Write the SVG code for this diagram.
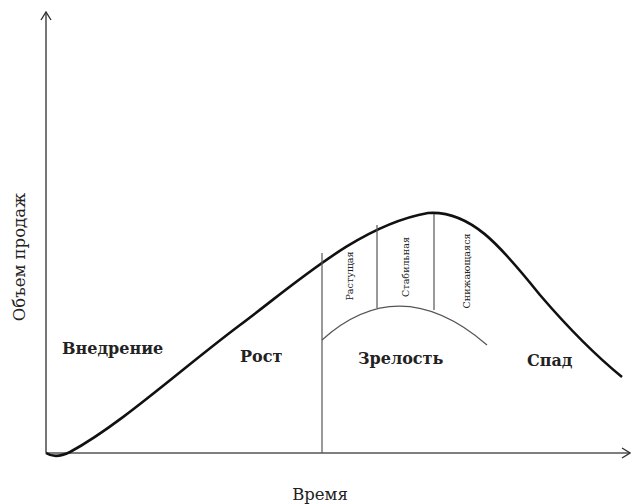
<svg xmlns="http://www.w3.org/2000/svg" width="634" height="504" viewBox="0 0 634 504">
  <style>
    .axis { stroke: #555; stroke-width: 1.6; fill: none; }
    .curve { stroke: #111; stroke-width: 2.6; fill: none; }
    .thin { stroke: #555; stroke-width: 1.2; fill: none; }
    text { font-family: "DejaVu Serif", "Liberation Serif", serif; }
    .lbl { font-size: 16px; font-weight: bold; fill: #222; }
    .axl { font-size: 16.5px; fill: #222; }
    .vlbl { font-size: 9.6px; fill: #222; }
  </style>
  <defs>
    <marker id="arrow" markerWidth="10" markerHeight="12" refX="9" refY="6" orient="auto" markerUnits="userSpaceOnUse">
      <path d="M1,1 L9,6 L1,11" fill="none" stroke="#333" stroke-width="1.4"/>
    </marker>
  </defs>

  <g id="axes">
    <line class="axis" x1="46" y1="453" x2="46" y2="12" marker-end="url(#arrow)"/>
    <line class="axis" x1="46" y1="453" x2="630" y2="453" marker-end="url(#arrow)"/>
  </g>

  <g id="connectors">
    <!-- life-cycle sales curve -->
    <path class="curve" d="M46,453 C52,457 60,457 70,452 C120,425 180,370 240,325 C300,280 360,225 428,213 C470,210 500,245 540,295 C570,330 595,355 622,377"/>
    <!-- maturity sub-phase dividers -->
    <line class="thin" x1="322" y1="253" x2="322" y2="453"/>
    <line class="thin" x1="377" y1="225" x2="377" y2="308"/>
    <line class="thin" x1="434" y1="214" x2="434" y2="310"/>
    <!-- maturity arc -->
    <path class="thin" d="M322,340 Q400,270 487,345"/>
  </g>

  <g id="introduction"><text class="lbl" x="62" y="354">Внедрение</text></g>
  <g id="growth"><text class="lbl" x="240" y="362">Рост</text></g>
  <g id="maturity"><text class="lbl" x="358" y="364">Зрелость</text></g>
  <g id="decline"><text class="lbl" x="527" y="366">Спад</text></g>

  <g id="growing"><text class="vlbl" transform="translate(353,276) rotate(-90)" text-anchor="middle">Растущая</text></g>
  <g id="stable"><text class="vlbl" transform="translate(409,267) rotate(-90)" text-anchor="middle">Стабильная</text></g>
  <g id="declining"><text class="vlbl" transform="translate(470,271) rotate(-90)" text-anchor="middle">Снижающаяся</text></g>

  <g id="x-label"><text class="axl" x="320" y="500" text-anchor="middle">Время</text></g>
  <g id="y-label"><text class="axl" transform="translate(25,257) rotate(-90)" text-anchor="middle">Объем продаж</text></g>
</svg>
